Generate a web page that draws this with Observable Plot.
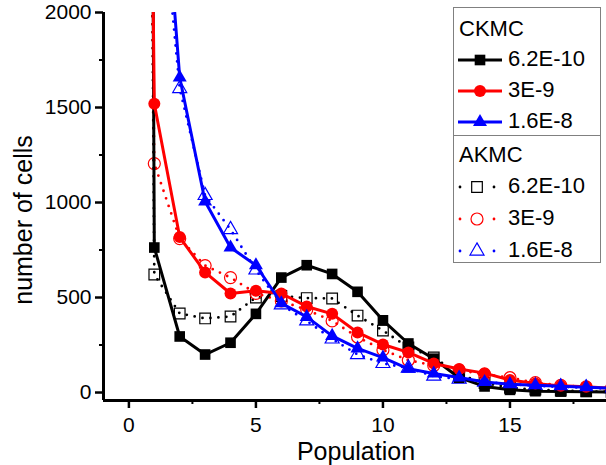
<!DOCTYPE html>
<html><head><meta charset="utf-8">
<script src="https://cdn.jsdelivr.net/npm/d3@7"></script>
<script src="https://cdn.jsdelivr.net/npm/@observablehq/plot@0.6"></script>
<style>
body{margin:0;background:#fff;}
#chart svg{display:block;}
</style>
</head><body><div id="chart"></div>
<script>
// ---- data ----
const population = [0,1,2,3,4,5,6,7,8,9,10,11,12,13,14,15,16,17,18,19];
const ckmc_62E10 = [30000, 763, 295, 200, 262, 414, 605, 670, 624, 530, 380, 258, 178, 78, 32, 14, 7, 5, 4, 3];
const ckmc_3E9   = [13500, 1520, 818, 632, 521, 535, 521, 453, 414, 316, 253, 211, 153, 124, 102, 66, 48, 35, 30, 22];
const ckmc_16E8  = [null, 3400, 1658, 1005, 763, 670, 470, 398, 298, 232, 184, 125, 100, 79, 55, 44, 38, 33, 28, 22];
const akmc_62E10 = [20000, 621, 416, 390, 400, 500, 508, 497, 495, 405, 326, 238, 185, 95, 50, 25, 15, 10, 6, 4];
const akmc_3E9   = [12000, 1205, 810, 668, 605, 522, 482, 435, 377, 292, 224, 170, 142, 118, 95, 78, 52, 38, 30, 24];
const akmc_16E8  = [null, 3000, 1600, 1037, 858, 645, 462, 377, 282, 200, 153, 129, 86, 70, 55, 45, 35, 30, 25, 20];
const rateLabels = ["6.2E-10", "3E-9", "1.6E-8"];
const methodLabels = ["CKMC", "AKMC"];
const colors = ["#000000", "#ff0000", "#0000ff"];
const symbols = ["square", "circle", "triangle"];
const xTicks = [0, 5, 10, 15];
const xMinor = [2.5, 7.5, 12.5, 17.5];
const yTicks = [0, 500, 1000, 1500, 2000];
const yMinor = [250, 750, 1250, 1750];

const ckmcSeries = [ckmc_62E10, ckmc_3E9, ckmc_16E8];
const akmcSeries = [akmc_62E10, akmc_3E9, akmc_16E8];
const toRows = (vals) => population.map((p, i) => ({x: p, y: vals[i]})).filter(d => d.y != null);

const FONT = "'Liberation Sans', Arial, Helvetica, sans-serif";
const R = [6, 6, 5.2];

const marks = [];
// AKMC (dotted lines, open markers)
akmcSeries.forEach((vals, k) => {
  const rows = toRows(vals);
  marks.push(Plot.line(rows, {x: "x", y: "y", stroke: colors[k], strokeWidth: 2.8, strokeDasharray: "0 8", strokeLinecap: "round", clip: true}));
  marks.push(Plot.dot(rows, {x: "x", y: "y", symbol: symbols[k], r: R[k], fill: "none", stroke: colors[k], strokeWidth: 1.2, clip: true}));
});
// CKMC (solid lines, filled markers)
ckmcSeries.forEach((vals, k) => {
  const rows = toRows(vals);
  marks.push(Plot.line(rows, {x: "x", y: "y", stroke: colors[k], strokeWidth: 3, clip: true}));
  marks.push(Plot.dot(rows, {x: "x", y: "y", symbol: symbols[k], r: R[k], fill: colors[k], stroke: "none", clip: true}));
});

const chart = Plot.plot({
  width: 606, height: 465,
  marginLeft: 103, marginRight: 0, marginTop: 12, marginBottom: 65,
  style: {fontFamily: FONT, background: "white", color: "black"},
  x: {domain: [-1, 18.8]},
  y: {domain: [-42, 2000]},
  marks: [
    ...marks,
    Plot.axisY({ticks: yTicks, tickSize: 8, tickPadding: 4, fontSize: 21, strokeWidth: 2.5, tickFormat: d3.format("d"), label: null}),
    Plot.axisY({ticks: yMinor, tickSize: 4, strokeWidth: 2, tickFormat: () => "", label: null}),
    Plot.axisX({ticks: xTicks, tickSize: 8, tickPadding: 9, fontSize: 21, strokeWidth: 2.5, tickFormat: d3.format("d"), label: null}),
    Plot.axisX({ticks: xMinor, tickSize: 4, strokeWidth: 2, tickFormat: () => "", label: null}),
    Plot.ruleX([-1], {strokeWidth: 3}),
    Plot.ruleY([-42], {strokeWidth: 3})
  ]
});
document.getElementById("chart").appendChild(chart);

// ---- titles and legend ----
const svg = d3.select(chart);
svg.append("text").attr("x", 356).attr("y", 460).attr("text-anchor", "middle")
  .attr("font-family", FONT).attr("font-size", 25).attr("fill", "black").text("Population");
svg.append("text").attr("transform", "translate(32,220) rotate(-90)").attr("text-anchor", "middle")
  .attr("font-family", FONT).attr("font-size", 25).attr("fill", "black").text("number of cells");

const lg = svg.append("g").attr("font-family", FONT).attr("font-size", 22).attr("fill", "black")
  .attr("text-anchor", "start");
const symMap = {square: d3.symbolSquare, circle: d3.symbolCircle, triangle: d3.symbolTriangle};
const boxes = [{y0: 7.5, h: 128, title: 36, rows: [60, 91, 122], texts: [66, 97, 128]},
               {y0: 135.5, h: 127, title: 162, rows: [187, 219, 251], texts: [193, 225, 257]}];
boxes.forEach((b, m) => {
  lg.append("rect").attr("x", 453.5).attr("y", b.y0).attr("width", 147).attr("height", b.h)
    .attr("fill", "white").attr("stroke", "#808080").attr("stroke-width", 1);
  lg.append("text").attr("x", 459).attr("y", b.title).attr("text-anchor", "start").text(methodLabels[m]);
  rateLabels.forEach((lab, k) => {
    const y = b.rows[k];
    const sym = d3.symbol(symMap[symbols[k]], Math.PI * R[k] * R[k])();
    if (m === 0) {
      lg.append("line").attr("x1", 458).attr("x2", 502).attr("y1", y).attr("y2", y)
        .attr("stroke", colors[k]).attr("stroke-width", 3);
      lg.append("path").attr("d", sym).attr("transform", `translate(480,${y})`).attr("fill", colors[k]);
    } else {
      lg.append("line").attr("x1", 460).attr("x2", 496).attr("y1", y).attr("y2", y)
        .attr("stroke", colors[k]).attr("stroke-width", 2.8).attr("stroke-dasharray", "0 34").attr("stroke-linecap", "round");
      lg.append("path").attr("d", sym).attr("transform", `translate(477,${y})`).attr("fill", "none")
        .attr("stroke", colors[k]).attr("stroke-width", 1.2);
    }
    lg.append("text").attr("x", 508).attr("y", b.texts[k]).attr("text-anchor", "start").text(lab);
  });
});
</script>
</body></html>
